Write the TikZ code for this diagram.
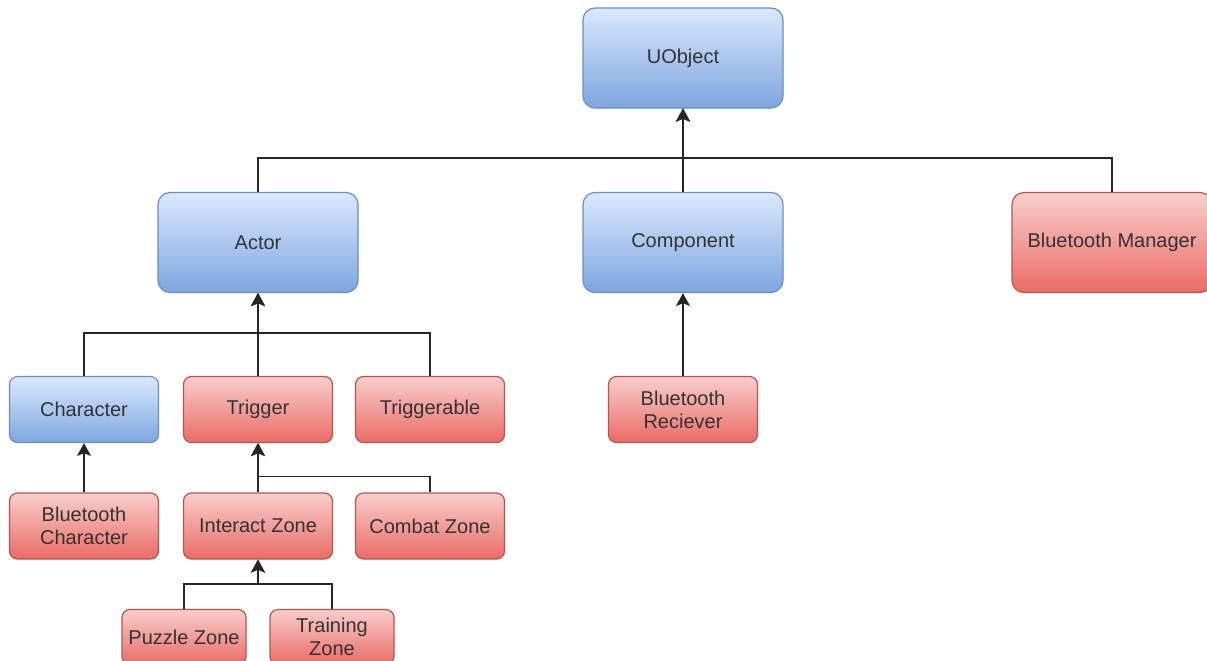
\documentclass[tikz,border=0pt]{standalone}
\usepackage{fontspec}
\setmainfont{Liberation Sans}
\usetikzlibrary{arrows.meta}

\definecolor{bluetop}{HTML}{DAE8FC}
\definecolor{bluebot}{HTML}{7EA6E0}
\definecolor{blueline}{HTML}{6C8EBF}
\definecolor{redtop}{HTML}{F8CECC}
\definecolor{redbot}{HTML}{EA6B66}
\definecolor{redline}{HTML}{B85450}
\definecolor{txt}{HTML}{333333}

\begin{document}
\begin{tikzpicture}[x=0.5pt, y=-0.5pt,
    font=\fontsize{10}{11.5}\selectfont, text=txt,
    box/.style={rectangle, align=center, line width=0.6pt},
    bluebox/.style={box, draw=blueline, top color=bluetop, bottom color=bluebot},
    redbox/.style={box, draw=redline, top color=redtop, bottom color=redbot},
    big/.style={minimum width=100pt, minimum height=50pt, rounded corners=6pt},
    small/.style={minimum width=74.5pt, minimum height=33pt, rounded corners=4pt},
    tiny/.style={minimum width=62pt, minimum height=27.5pt, inner sep=1pt, rounded corners=4pt},
    arr/.style={-{Stealth[length=6.5pt, width=7pt, inset=1.5pt]}, line width=0.75pt, draw=black!85}]
    \useasboundingbox (0,0) rectangle (1207,660);

    \node[bluebox, big] (uobj) at (683,58) {UObject};
    \node[bluebox, big] (act) at (258,242.5) {Actor};
    \node[bluebox, big] (comp) at (683,242.5) {Component};
    \node[redbox, big] (btman) at (1112,242.5) {Bluetooth Manager};

    \node[bluebox, small] (char) at (84,409.5) {Character};
    \node[redbox, small] (trig) at (258,409.5) {Trigger};
    \node[redbox, small] (trigable) at (430,409.5) {Triggerable};
    \node[redbox, small] (btrecv) at (683,409.5) {Bluetooth\\Reciever};

    \node[redbox, small] (btchar) at (84,526) {Bluetooth\\Character};
    \node[redbox, small] (izone) at (258,526) {Interact Zone};
    \node[redbox, small] (czone) at (430,526) {Combat Zone};

    \node[redbox, tiny] (pzone) at (184,637) {Puzzle Zone};
    \node[redbox, tiny] (tzone) at (332,637) {Training\\Zone};

    \draw[arr] (act.north) -- ++(0,-34) -| (uobj.south);
    \draw[arr] (btman.north) -- ++(0,-34) -| (uobj.south);
    \draw[arr] (comp.north) -- (uobj.south);

    \draw[arr] (char.north) -- ++(0,-43) -| (act.south);
    \draw[arr] (trig.north) -- (act.south);
    \draw[arr] (trigable.north) -- ++(0,-43) -| (act.south);
    \draw[arr] (btrecv.north) -- (comp.south);

    \draw[arr] (btchar.north) -- (char.south);
    \draw[arr] (izone.north) -- (trig.south);
    \draw[arr] (czone.north) -- ++(0,-16) -| (trig.south);

    \draw[arr] (pzone.north) -- ++(0,-25) -| (izone.south);
    \draw[arr] (tzone.north) -- ++(0,-25) -| (izone.south);
\end{tikzpicture}
\end{document}
